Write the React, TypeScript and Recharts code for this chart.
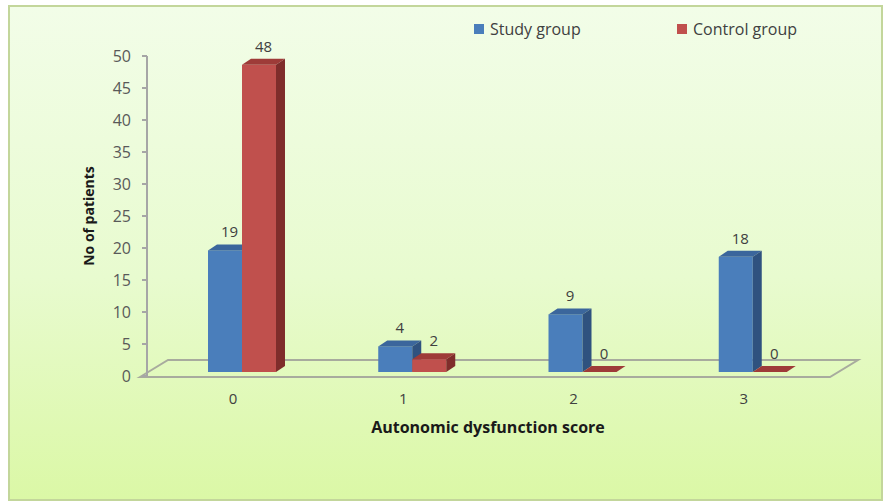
import { BarChart, Bar, XAxis, YAxis, Legend, LabelList, ReferenceLine, Label } from 'recharts'

const scores = ['0', '1', '2', '3']
const studyGroup = [19, 4, 9, 18]
const controlGroup = [48, 2, 0, 0]
const yTicks = [0, 5, 10, 15, 20, 25, 30, 35, 40, 45, 50]

const data = scores.map((s, i) => ({ score: s, study: studyGroup[i], control: controlGroup[i] }))

const FONT = '"Open Sans", Lato, sans-serif'
const DX = 9
const DY = 6
const LIFT = 4

function bar3d(front: string, top: string, side: string) {
  return (props: any) => {
    const { x, width } = props
    const y = props.y - LIFT
    const h = Math.max(0, props.height)
    const b = y + h
    return (
      <g>
        <rect x={x} y={y} width={width} height={h} fill={front} />
        <polygon points={`${x},${y} ${x + DX},${y - DY} ${x + width + DX},${y - DY} ${x + width},${y}`} fill={top} />
        <polygon points={`${x + width},${y} ${x + width + DX},${y - DY} ${x + width + DX},${b - DY} ${x + width},${b}`} fill={side} />
      </g>
    )
  }
}

function barLabel(props: any) {
  const { x, y, width, value } = props
  return (
    <text x={x + width / 2 + DX / 2} y={y - LIFT - DY - 7} textAnchor="middle" fontSize={15} fill="#404040" fontFamily={FONT}>
      {value}
    </text>
  )
}

function Floor(props: any) {
  const { x1, x2, y1 } = props
  const pts = `${x1 - 7},${y1 + 1} ${x1 + 21},${y1 - 16} ${x2 + 20},${y1 - 16} ${x2 - 8},${y1 + 1}`
  return <polygon points={pts} fill="none" stroke="#a8ab9e" strokeWidth={2} />
}

function LegendBox() {
  const item = (color: string, text: string, w: number) => (
    <div style={{ display: 'flex', alignItems: 'center', width: w }}>
      <span style={{ width: 10, height: 10, background: color, marginRight: 6, display: 'inline-block' }} />
      <span>{text}</span>
    </div>
  )
  return (
    <div style={{ display: 'flex', fontFamily: FONT, fontSize: 16, color: '#404040', lineHeight: '20px' }}>
      {item('#4a7ebb', 'Study group', 203)}
      {item('#c0504d', 'Control group', 170)}
    </div>
  )
}

export default function App() {
  return (
    <div
      style={{
        position: 'absolute', left: 8, top: 5, width: 875, height: 496, boxSizing: 'border-box',
        border: '2px solid #c3d69b',
        background: 'linear-gradient(180deg, #f2fde8 0%, #e8fbcf 55%, #dbf8a6 100%)',
      }}
    >
      <BarChart width={871} height={492} data={data} margin={{ top: 29, right: 43, left: 77, bottom: 93 }} barGap={0} barSize={34}>
        <ReferenceLine y={0} shape={Floor} ifOverflow="visible" zIndex={-50} />
        <XAxis
          dataKey="score"
          height={30}
          axisLine={false}
          tickLine={false}
          tickSize={0}
          tickMargin={17}
          padding={{ left: 10, right: 0 }}
          tick={{ fontSize: 15, fill: '#404040', fontFamily: FONT, dx: -9 }}
        >
          <Label
            content={() => (
              <text x={478} y={426} textAnchor="middle" fontSize={16} fontWeight="bold" fill="#1a1a1a" fontFamily={FONT}>
                Autonomic dysfunction score
              </text>
            )}
          />
        </XAxis>
        <YAxis
          width={60}
          domain={[0, 50]}
          ticks={yTicks}
          interval={0}
          axisLine={{ stroke: '#a6a6a6', strokeWidth: 2 }}
          tickLine={{ stroke: '#a6a6a6', strokeWidth: 2 }}
          tickSize={5}
          tickMargin={11}
          tick={{ fontSize: 16, fill: '#595959', fontFamily: FONT }}
        >
          <Label
            content={() => (
              <text x={84} y={209} transform="rotate(-90 84 209)" textAnchor="middle" fontSize={14} fontWeight="bold" fill="#1a1a1a" fontFamily={FONT}>
                No of patients
              </text>
            )}
          />
        </YAxis>
        <Legend verticalAlign="top" content={<LegendBox />} wrapperStyle={{ top: 12, left: 464, width: 400 }} />
        <Bar dataKey="study" name="Study group" fill="#4a7ebb" shape={bar3d('#4a7ebb', '#3b669c', '#2f527f')} isAnimationActive={false}>
          <LabelList dataKey="study" content={barLabel} />
        </Bar>
        <Bar dataKey="control" name="Control group" fill="#c0504d" shape={bar3d('#c0504d', '#9e3b38', '#7f2d2b')} isAnimationActive={false}>
          <LabelList dataKey="control" content={barLabel} />
        </Bar>
      </BarChart>
    </div>
  )
}
